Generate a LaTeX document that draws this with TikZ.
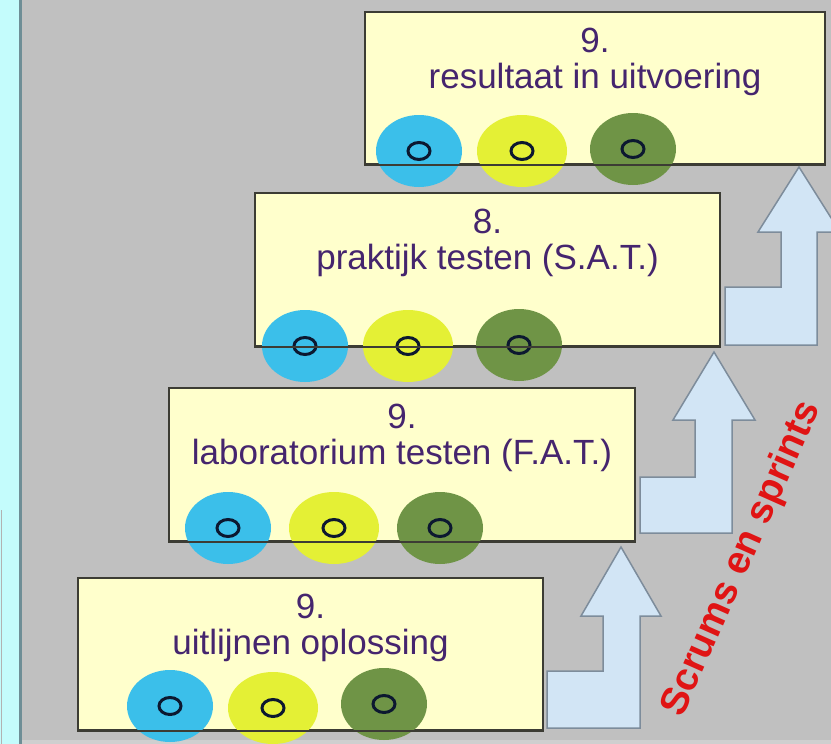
\documentclass[tikz,border=0pt]{standalone}
\usepackage{fontspec}
\setmainfont{Liberation Sans}
\usepackage{tikz}
\usepackage{xcolor}
\usetikzlibrary{
    shapes.geometric,
    positioning,
    calc
}
\definecolor{bggrey}{HTML}{C0C0C0}
\definecolor{stripcyan}{HTML}{C4FCFC}
\definecolor{stripline}{HTML}{6E8E96}
\definecolor{bandgrey}{HTML}{CFCFCF}
\definecolor{boxfill}{HTML}{FFFFCC}
\definecolor{boxline}{HTML}{3C3C34}
\definecolor{textpurple}{HTML}{45256E}
\definecolor{pipblue}{HTML}{3BBFEA}
\definecolor{pipyellow}{HTML}{E4F035}
\definecolor{pipgreen}{HTML}{6F9446}
\definecolor{ringnavy}{HTML}{0C1830}
\definecolor{arrowfill}{HTML}{D2E5F5}
\definecolor{arrowline}{HTML}{7D8C9B}
\definecolor{scrumred}{HTML}{E01414}

\begin{document}
\begin{tikzpicture}[x=1pt, y=-1pt,
    stepbox/.style={draw=boxline, line width=2pt, fill=boxfill, anchor=north west,
        minimum width=465pt, minimum height=152pt, inner sep=0pt},
    steptext/.style={align=center, inner sep=0pt, text=textpurple,
        font=\fontsize{35}{36}\selectfont},
    pip/.style={ellipse, minimum width=86pt, minimum height=72pt, inner sep=0pt,
        path picture={\draw[ringnavy, line width=3pt] (path picture bounding box.center)
            ellipse [x radius=11pt, y radius=8.5pt];}},
    steparrow/.style={fill=arrowfill, draw=arrowline, line width=1.5pt, line join=miter}
]
    \useasboundingbox (0,0) rectangle (831,744);
    \clip (0,0) rectangle (831,744);

    % background
    \fill[bggrey] (0,0) rectangle (831,744);
    \fill[bandgrey] (21,740) rectangle (831,744);
    \fill[stripcyan] (0,0) rectangle (19,744);
    \draw[stripline, line width=2.5pt] (20.5,0) -- (20.5,744);
    \draw[black!30, line width=1pt] (1,510) -- (1,744);

    % steps
    \node[stepbox] (s1) at (77,577) {};
    \node[stepbox, minimum width=466pt, minimum height=153pt] (s2) at (168,387) {};
    \node[stepbox, minimum height=153pt] (s3) at (254,192) {};
    \node[stepbox, minimum width=460pt] (s4) at (364,11) {};

    \node[steptext, below=17pt of s1.north] (l1) {9.\\uitlijnen oplossing};
    \node[steptext, below=17pt of s2.north] (l2) {9.\\laboratorium testen (F.A.T.)};
    \node[steptext, below=17pt of s3.north] (l3) {8.\\praktijk testen (S.A.T.)};
    \node[steptext, below=17pt of s4.north] (l4) {9.\\resultaat in uitvoering};

    % pips
    \node[pip, fill=pipblue] (p11) at (170,706) {};
    \node[pip, fill=pipyellow, minimum width=90pt] (p12) at (273,708) {};
    \node[pip, fill=pipgreen] (p13) at (384,704) {};
    \node[pip, fill=pipblue] (p21) at (228,528) {};
    \node[pip, fill=pipyellow, minimum width=90pt] (p22) at (334,528) {};
    \node[pip, fill=pipgreen] (p23) at (440,528) {};
    \node[pip, fill=pipblue] (p31) at (305,346) {};
    \node[pip, fill=pipyellow, minimum width=90pt] (p32) at (408,346) {};
    \node[pip, fill=pipgreen] (p33) at (519,345) {};
    \node[pip, fill=pipblue] (p41) at (419,151) {};
    \node[pip, fill=pipyellow, minimum width=90pt] (p42) at (522,151) {};
    \node[pip, fill=pipgreen] (p43) at (633,149) {};

    \draw[boxline, line width=2pt]
    (s1.south west) -- (s1.south east)
    (s2.south west) -- (s2.south east)
    (s3.south west) -- (s3.south east)
    (s4.south west) -- (s4.south east);

    % sprint arrows
    \coordinate (a1) at (547,728);
    \coordinate (a2) at (640,533);
    \coordinate (a3) at (725,345);
    \draw[steparrow] (a1) -- ++(93,0) -- ++(0,-112) -- ++(21,0) -- ++(-40,-69)
        -- ++(-40,69) -- ++(22,0) -- ++(0,55) -- ++(-56,0) -- cycle;
    \draw[steparrow] (a2) -- ++(92,0) -- ++(0,-113) -- ++(23,0) -- ++(-41,-68)
        -- ++(-41,68) -- ++(22,0) -- ++(0,57) -- ++(-55,0) -- cycle;
    \draw[steparrow] (a3) -- ++(92,0) -- ++(0,-113) -- ++(23,0) -- ++(-41,-65)
        -- ++(-41,65) -- ++(23,0) -- ++(0,55) -- ++(-56,0) -- cycle;

    \node[rotate=66, text=scrumred, font=\bfseries\fontsize{39}{39}\selectfont]
        (scrum) at (742,559) {Scrums en sprints};
\end{tikzpicture}
\end{document}
